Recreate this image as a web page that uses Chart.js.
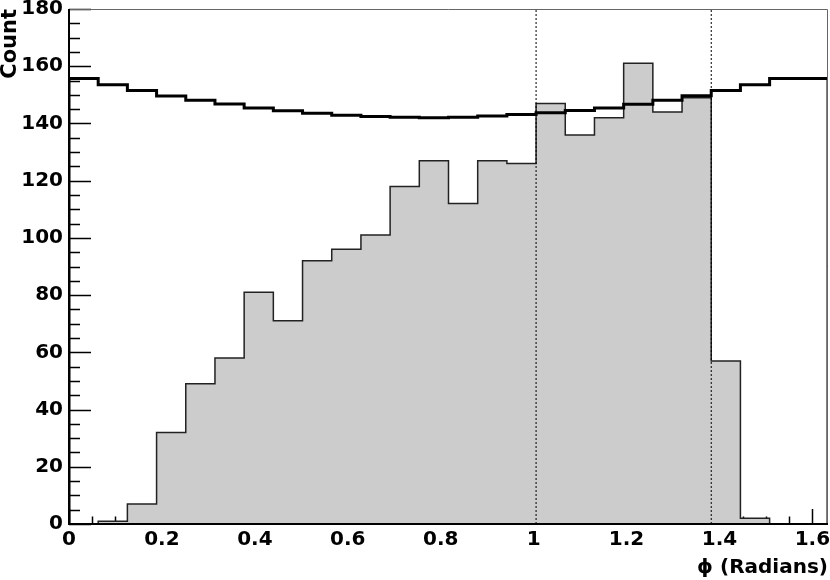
<!DOCTYPE html>
<html lang="en">
<head>
    <meta charset="UTF-8">
    <title>Phi distribution</title>
    <script src="https://cdn.jsdelivr.net/npm/chart.js"></script>
    <style>
        html, body { margin: 0; padding: 0; background: #fff; }
        #wrap { width: 830px; height: 580px; }
    </style>
</head>
<body>
    <div id="wrap"><canvas id="phiChart" width="830" height="580"></canvas></div>

    <script>
        // 26 bins of width pi/50 from 0 to 1.634 rad
        const binCount = 26;
        const binWidth = Math.PI / 50;

        // filled (grey) histogram: counts per bin
        const countsData = [0, 1, 7, 32, 49, 58, 81, 71, 92, 96, 101, 118, 127, 112, 127, 126, 147, 136, 142, 161, 144, 149, 57, 2, 0, 0];
        // black outline histogram
        const expectedCurve = [155.7, 153.5, 151.5, 149.6, 148.1, 146.8, 145.4, 144.4, 143.6, 142.9, 142.4, 142.2, 142.0, 142.2, 142.6, 143.1, 143.7, 144.5, 145.4, 146.7, 148.1, 149.7, 151.5, 153.5, 155.7, 155.7];
        // dotted cut positions (radians)
        const cutLines = [1.0053, 1.3823];

        const xTickLabels = [0, 0.2, 0.4, 0.6, 0.8, 1, 1.2, 1.4, 1.6];
        const yTickLabels = [0, 20, 40, 60, 80, 100, 120, 140, 160, 180];
        const yMax = 180;

        const axisFont = { family: 'DejaVu Sans', weight: 'bold', size: 20 };

        // turn bin contents into points for a stepped line
        function histPoints(values, dropEnds) {
            const pts = [];
            if (dropEnds) pts.push({ x: 0, y: 0 });
            values.forEach((v, i) => pts.push({ x: i * binWidth, y: v }));
            pts.push({ x: values.length * binWidth, y: values[values.length - 1] });
            if (dropEnds) pts.push({ x: values.length * binWidth, y: 0 });
            return pts;
        }

        // dotted baseline under the non-empty part of the grey histogram
        const firstBin = countsData.findIndex(v => v > 0);
        const lastBin = countsData.length - 1 - [...countsData].reverse().findIndex(v => v > 0);

        const datasets = [
            {
                data: histPoints(expectedCurve, true),
                borderColor: '#000',
                borderWidth: 3,
                stepped: true,
                fill: false
            },
            ...cutLines.map(c => ({
                data: [{ x: c, y: 0 }, { x: c, y: yMax }],
                borderColor: '#000',
                borderWidth: 1,
                borderDash: [2, 2],
                fill: false
            })),
            {
                data: [{ x: firstBin * binWidth, y: 0 }, { x: (lastBin + 1) * binWidth, y: 0 }],
                borderColor: '#333',
                borderWidth: 1,
                borderDash: [2, 2],
                fill: false
            },
            {
                data: histPoints(countsData, false),
                borderColor: '#222',
                borderWidth: 1.5,
                backgroundColor: '#cccccc',
                stepped: true,
                fill: 'origin'
            }
        ];

        // ROOT-like inside ticks (under the histograms) and frame (on top)
        const frameTicks = {
            id: 'frameTicks',
            beforeDatasetsDraw(chart) {
                const { ctx, chartArea: a, scales: { x, y } } = chart;
                ctx.save();
                ctx.strokeStyle = '#000';
                ctx.lineWidth = 1.5;
                ctx.beginPath();
                for (let v = 0; v <= yMax; v += 5) {
                    const py = Math.round(y.getPixelForValue(v)) + 0.5;
                    const len = v % 20 === 0 ? 22 : 11;
                    ctx.moveTo(a.left, py);
                    ctx.lineTo(a.left + len, py);
                }
                for (let k = 0; k * 0.05 <= x.max + 1e-9; k++) {
                    const px = Math.round(x.getPixelForValue(k * 0.05)) + 0.5;
                    const len = k % 4 === 0 ? 15 : 7.5;
                    ctx.moveTo(px, a.bottom);
                    ctx.lineTo(px, a.bottom - len);
                }
                ctx.stroke();
                ctx.restore();
            },
            afterDatasetsDraw(chart) {
                const { ctx, chartArea: a } = chart;
                ctx.save();
                ctx.strokeStyle = '#666';
                ctx.lineWidth = 1;
                ctx.beginPath();
                ctx.moveTo(a.left, a.top + 0.5);
                ctx.lineTo(a.right - 0.5, a.top + 0.5);
                ctx.lineTo(a.right - 0.5, a.bottom);
                ctx.stroke();
                ctx.strokeStyle = '#000';
                ctx.lineWidth = 2;
                ctx.beginPath();
                ctx.moveTo(a.left, a.top);
                ctx.lineTo(a.left, a.bottom);
                ctx.lineTo(a.right, a.bottom);
                ctx.stroke();
                ctx.restore();
            }
        };

        new Chart(document.getElementById('phiChart'), {
            type: 'line',
            data: { datasets: datasets },
            plugins: [frameTicks],
            options: {
                responsive: false,
                animation: false,
                layout: { padding: { left: 0, right: 2, top: 9, bottom: 0 } },
                elements: { point: { radius: 0 }, line: { tension: 0 } },
                plugins: {
                    legend: { display: false },
                    tooltip: { enabled: false }
                },
                scales: {
                    x: {
                        type: 'linear',
                        min: 0,
                        max: binCount * binWidth,
                        afterBuildTicks: s => { s.ticks = xTickLabels.map(v => ({ value: v })); },
                        afterFit: s => { s.height = 56; s.paddingLeft = 0; s.paddingRight = 0; },
                        ticks: {
                            autoSkip: false,
                            maxRotation: 0,
                            padding: 4,
                            color: '#000',
                            font: axisFont,
                            callback: v => String(v)
                        },
                        grid: { display: false, drawTicks: false },
                        border: { display: false },
                        title: {
                            display: true,
                            text: '\u03D5 (Radians)',
                            align: 'end',
                            color: '#000',
                            font: axisFont,
                            padding: { top: 0, bottom: 0 }
                        }
                    },
                    y: {
                        min: 0,
                        max: yMax,
                        afterBuildTicks: s => { s.ticks = yTickLabels.map(v => ({ value: v })); },
                        afterFit: s => { s.width = 69; s.paddingTop = 0; s.paddingBottom = 0; },
                        ticks: {
                            padding: 6,
                            color: '#000',
                            font: axisFont
                        },
                        grid: { display: false, drawTicks: false },
                        border: { display: false },
                        title: {
                            display: true,
                            text: 'Count',
                            align: 'end',
                            color: '#000',
                            font: { family: 'DejaVu Sans', weight: 'bold', size: 21, lineHeight: 1 },
                            padding: 0
                        }
                    }
                }
            }
        });
    </script>
</body>
</html>
